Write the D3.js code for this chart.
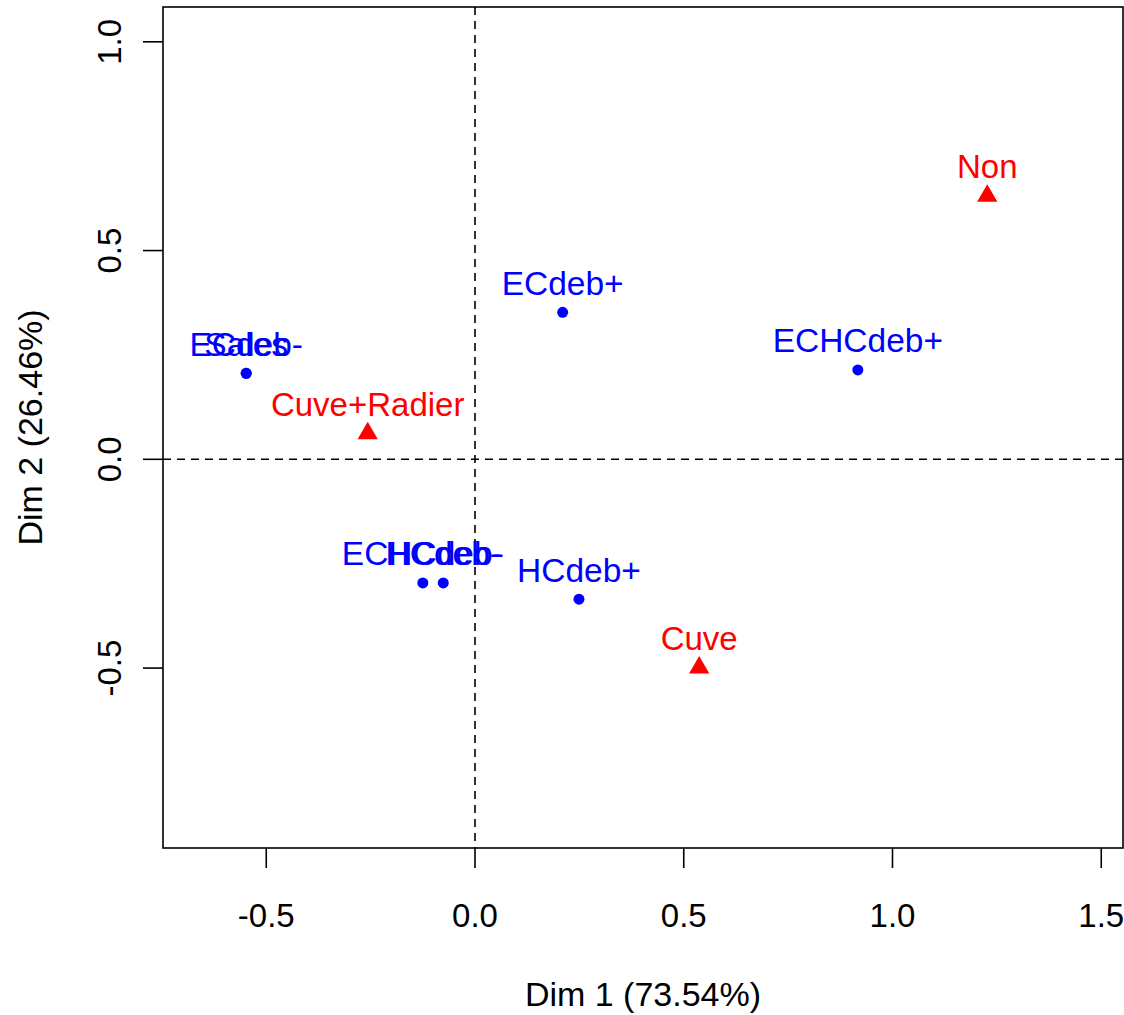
<!DOCTYPE html>
<meta charset="utf-8">
<style>
    body { margin: 0; background: #fff; }
    text { font-family: "Liberation Sans", Arial, Helvetica, sans-serif; }
</style>
<svg width="1124" height="1015"></svg>
<script src="https://d3js.org/d3.v7.min.js"></script>
<script>
    // row categories (blue dots)
    var rowLabels = ["ECdeb-", "Sales", "ECdeb+", "ECHCdeb+", "ECHCdeb-", "HCdeb-", "HCdeb+"];
    var rowDim1 = [-0.548, -0.548, 0.210, 0.917, -0.125, -0.076, 0.249];
    var rowDim2 = [0.206, 0.206, 0.352, 0.214, -0.296, -0.296, -0.335];

    // column categories (red triangles)
    var colLabels = ["Non", "Cuve", "Cuve+Radier"];
    var colDim1 = [1.227, 0.537, -0.257];
    var colDim2 = [0.631, -0.499, 0.062];

    var xTicks = [-0.5, 0.0, 0.5, 1.0, 1.5],
        yTicks = [-0.5, 0.0, 0.5, 1.0];
    var xTitle = "Dim 1 (73.54%)",
        yTitle = "Dim 2 (26.46%)";

    var plotL = 163, plotR = 1123, plotT = 7, plotB = 848;

    var x = d3.scaleLinear().domain([-0.7473, 1.5521]).range([plotL, plotR]),
        y = d3.scaleLinear().domain([-0.931, 1.0834]).range([plotB, plotT]);

    var fmt = function (d) { return d3.format(".1f")(d).replace("\u2212", "-"); };

    var svg = d3.select("svg");

    // reference lines at 0
    svg.append("line")
            .attr("x1", plotL).attr("x2", plotR)
            .attr("y1", y(0)).attr("y2", y(0))
            .attr("stroke", "#000").attr("stroke-width", 1.6)
            .attr("stroke-dasharray", "8,6");
    svg.append("line")
            .attr("x1", x(0)).attr("x2", x(0))
            .attr("y1", plotT).attr("y2", plotB)
            .attr("stroke", "#000").attr("stroke-width", 1.6)
            .attr("stroke-dasharray", "8,6");

    // box
    svg.append("rect")
            .attr("x", plotL).attr("y", plotT)
            .attr("width", plotR - plotL).attr("height", plotB - plotT)
            .attr("fill", "none").attr("stroke", "#000").attr("stroke-width", 1.6);

    // x axis
    var xAxis = svg.append("g");
    xAxis.selectAll("line").data(xTicks).enter().append("line")
            .attr("x1", function (d) { return x(d); })
            .attr("x2", function (d) { return x(d); })
            .attr("y1", plotB).attr("y2", plotB + 20)
            .attr("stroke", "#000").attr("stroke-width", 1.6);
    xAxis.selectAll("text").data(xTicks).enter().append("text")
            .attr("x", function (d) { return x(d); })
            .attr("y", 927)
            .attr("text-anchor", "middle")
            .style("font-size", "33px")
            .text(fmt);

    // y axis
    var yAxis = svg.append("g");
    yAxis.selectAll("line").data(yTicks).enter().append("line")
            .attr("x1", plotL - 20).attr("x2", plotL)
            .attr("y1", function (d) { return y(d); })
            .attr("y2", function (d) { return y(d); })
            .attr("stroke", "#000").attr("stroke-width", 1.6);
    yAxis.selectAll("text").data(yTicks).enter().append("text")
            .attr("transform", function (d) { return "translate(121," + y(d) + ") rotate(-90)"; })
            .attr("text-anchor", "middle")
            .style("font-size", "33px")
            .text(fmt);

    // titles
    svg.append("text")
            .attr("x", (plotL + plotR) / 2).attr("y", 1006)
            .attr("text-anchor", "middle")
            .style("font-size", "34px")
            .text(xTitle);
    svg.append("text")
            .attr("transform", "translate(42," + (plotT + plotB) / 2 + ") rotate(-90)")
            .attr("text-anchor", "middle")
            .style("font-size", "34px")
            .text(yTitle);

    var rows = rowLabels.map(function (d, i) { return {label: d, d1: rowDim1[i], d2: rowDim2[i]}; });
    var cols = colLabels.map(function (d, i) { return {label: d, d1: colDim1[i], d2: colDim2[i]}; });

    svg.append("g").selectAll("circle").data(rows).enter().append("circle")
            .attr("cx", function (d) { return x(d.d1); })
            .attr("cy", function (d) { return y(d.d2); })
            .attr("r", 5.5)
            .attr("fill", "#0000ff");

    svg.append("g").selectAll("text").data(rows).enter().append("text")
            .attr("x", function (d) { return x(d.d1); })
            .attr("y", function (d) { return y(d.d2) - 17.5; })
            .attr("text-anchor", "middle")
            .attr("fill", "#0000ff")
            .style("font-size", "33.5px")
            .text(function (d) { return d.label; });

    var tri = d3.symbol().type(d3.symbolTriangle).size(177);

    svg.append("g").selectAll("path").data(cols).enter().append("path")
            .attr("transform", function (d) { return "translate(" + x(d.d1) + "," + y(d.d2) + ")"; })
            .attr("d", tri)
            .attr("fill", "#ff0000");

    svg.append("g").selectAll("text").data(cols).enter().append("text")
            .attr("x", function (d) { return x(d.d1); })
            .attr("y", function (d) { return y(d.d2) - 17.5; })
            .attr("text-anchor", "middle")
            .attr("fill", "#ff0000")
            .style("font-size", "33px")
            .text(function (d) { return d.label; });
</script>
